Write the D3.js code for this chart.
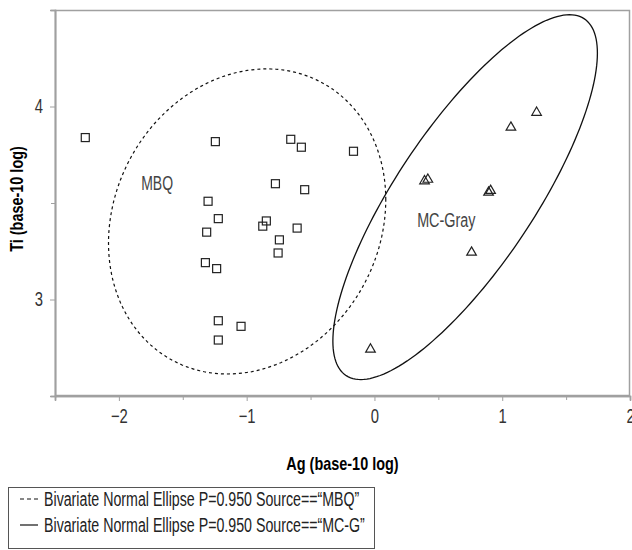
<!DOCTYPE html>
<html>
<head>
<meta charset="utf-8">
<script src="https://cdn.jsdelivr.net/npm/d3@7"></script>
<style>
  body { margin: 0; background: #fff; }
  text { font-family: "Liberation Sans", Arial, sans-serif; }
</style>
</head>
<body>
<svg id="chart" width="632" height="550"></svg>
<script>
// Ag / Ti (base-10 log)
var mbqAg = [-2.263, -1.245, -0.655, -0.572, -0.164, -0.775, -0.546, -1.302, -1.222, -1.313,
             -0.846, -0.874, -0.605, -0.744, -0.754, -1.323, -1.235, -1.222, -1.044, -1.222]
var mbqTi = [3.839, 3.818, 3.830, 3.789, 3.768, 3.600, 3.569, 3.509, 3.419, 3.349,
             3.407, 3.380, 3.370, 3.309, 3.241, 3.191, 3.160, 2.890, 2.861, 2.790]
var mcgAg = [1.269, 1.068, 0.392, 0.418, 0.893, 0.909, 0.760, -0.031]
var mcgTi = [3.974, 3.897, 3.619, 3.627, 3.560, 3.569, 3.249, 2.747]

var xTicks = [-2, -1, 0, 1, 2]
var xMinor = [-2.5, -1.5, -0.5, 0.5, 1.5]
var yTicks = [3, 4]
var yMinor = [3.5]
var P = 0.95
var legendLabels = ['Bivariate Normal Ellipse P=0.950 Source==\u201cMBQ\u201d',
                    'Bivariate Normal Ellipse P=0.950 Source==\u201cMC-G\u201d']

var margin = {top: 10, right: 2, bottom: 154, left: 55}
var width = 632, height = 550
var axisColor = '#a0a0a0'

var x = d3.scaleLinear().domain([-2.5, 2]).range([margin.left, width - margin.right])
var y = d3.scaleLinear().domain([2.5, 4.5]).range([height - margin.bottom, margin.top])

var svg = d3.select('#chart')

// no condensed face installed, so squeeze Liberation Sans horizontally
function narrow(ratio) {
    return sel => sel.each(function () {
        var len = this.getComputedTextLength()
        d3.select(this).attr('textLength', len * ratio).attr('lengthAdjust', 'spacingAndGlyphs')
    })
}

svg.append('clipPath').attr('id', 'plotclip')
    .append('rect')
    .attr('x', x(-2.5)).attr('y', y(4.5))
    .attr('width', x(2) - x(-2.5)).attr('height', y(2.5) - y(4.5))

// frame
svg.append('rect')
    .attr('x', x(-2.5) + 0.5).attr('y', y(4.5) + 0.5)
    .attr('width', x(2) - x(-2.5) - 1).attr('height', y(2.5) - y(4.5) - 1)
    .attr('fill', 'none').attr('stroke', axisColor).attr('stroke-width', 1.5)

// axes
svg.append('g')
    .attr('transform', `translate(0,${y(2.5)})`)
    .call(d3.axisBottom(x).tickValues(xTicks).tickSize(5).tickPadding(8).tickFormat(d3.format('d')))
svg.append('g')
    .attr('transform', `translate(0,${y(2.5)})`)
    .call(d3.axisBottom(x).tickValues(xMinor).tickSize(4).tickFormat(''))
svg.append('g')
    .attr('transform', `translate(${x(-2.5)},0)`)
    .call(d3.axisLeft(y).tickValues(yTicks).tickSize(5).tickPadding(7).tickFormat(d3.format('d')))
svg.append('g')
    .attr('transform', `translate(${x(-2.5)},0)`)
    .call(d3.axisLeft(y).tickValues(yMinor).tickSize(4).tickFormat(''))

svg.selectAll('.domain').attr('stroke', axisColor).attr('stroke-width', 1.5)
svg.selectAll('.tick line').attr('stroke', axisColor)
svg.selectAll('.tick text')
    .attr('font-family', '"Liberation Sans", sans-serif')
    .attr('font-size', 20).attr('fill', '#333')
    .call(narrow(0.74))

// axis titles
svg.append('text')
    .attr('x', (x(-2.5) + x(2)) / 2).attr('y', 470)
    .attr('text-anchor', 'middle')
    .attr('font-size', 19).attr('font-weight', 'bold')
    .text('Ag (base-10 log)')
    .call(narrow(0.76))
svg.append('text')
    .attr('transform', `translate(23,${(y(2.5) + y(4.5)) / 2 - 4}) rotate(-90)`)
    .attr('text-anchor', 'middle')
    .attr('font-size', 19).attr('font-weight', 'bold')
    .text('Ti (base-10 log)')
    .call(narrow(0.76))

// density ellipse from sample mean / covariance
function ellipse(xs, ys) {
    var n = xs.length
    var mx = d3.mean(xs), my = d3.mean(ys)
    var sxx = 0, syy = 0, sxy = 0
    for (var i = 0; i < n; i++) {
        sxx += (xs[i] - mx) * (xs[i] - mx)
        syy += (ys[i] - my) * (ys[i] - my)
        sxy += (xs[i] - mx) * (ys[i] - my)
    }
    sxx /= n - 1; syy /= n - 1; sxy /= n - 1
    var k = Math.sqrt(-2 * Math.log(1 - P))
    var l11 = Math.sqrt(sxx), l21 = sxy / l11, l22 = Math.sqrt(syy - l21 * l21)
    return d3.range(0, 360, 2).map(a => {
        var t = a * Math.PI / 180
        return [mx + k * l11 * Math.cos(t), my + k * (l21 * Math.cos(t) + l22 * Math.sin(t))]
    })
}
var line = d3.line().x(d => x(d[0])).y(d => y(d[1])).curve(d3.curveLinearClosed)

var plot = svg.append('g').attr('clip-path', 'url(#plotclip)')
plot.append('path')
    .attr('d', line(ellipse(mbqAg, mbqTi)))
    .attr('fill', 'none').attr('stroke', '#111').attr('stroke-width', 1.2)
    .attr('stroke-dasharray', '3,3')
plot.append('path')
    .attr('d', line(ellipse(mcgAg, mcgTi)))
    .attr('fill', 'none').attr('stroke', '#111').attr('stroke-width', 1.3)

// markers
plot.selectAll('.sq')
    .data(d3.zip(mbqAg, mbqTi))
    .join('rect')
    .attr('class', 'sq')
    .attr('x', d => x(d[0]) - 4).attr('y', d => y(d[1]) - 4)
    .attr('width', 8).attr('height', 8)
    .attr('fill', 'none').attr('stroke', '#222').attr('stroke-width', 1.2)
var tri = d3.symbol().type(d3.symbolTriangle).size(40)
plot.selectAll('.tri')
    .data(d3.zip(mcgAg, mcgTi))
    .join('path')
    .attr('class', 'tri')
    .attr('transform', d => `translate(${x(d[0])},${y(d[1]) + 1})`)
    .attr('d', tri)
    .attr('fill', 'none').attr('stroke', '#222').attr('stroke-width', 1.2)

// group labels
svg.append('text')
    .attr('x', x(d3.mean(mbqAg)) - 106).attr('y', 190)
    .attr('font-size', 20).attr('fill', '#444')
    .text('MBQ')
    .call(narrow(0.7))
svg.append('text')
    .attr('x', x(d3.mean(mcgAg)) - 48).attr('y', 227)
    .attr('font-size', 20).attr('fill', '#444')
    .text('MC-Gray')
    .call(narrow(0.72))

// legend
var lg = svg.append('g')
lg.append('rect')
    .attr('x', 8.5).attr('y', 487.5).attr('width', 366).attr('height', 61)
    .attr('fill', 'none').attr('stroke', '#555').attr('stroke-width', 1)
lg.selectAll('.lgline')
    .data(legendLabels)
    .join('line')
    .attr('x1', 20).attr('x2', 38)
    .attr('y1', (d, i) => 499 + i * 26).attr('y2', (d, i) => 499 + i * 26)
    .attr('stroke', '#111').attr('stroke-width', 1.2)
    .attr('stroke-dasharray', (d, i) => i == 0 ? '4,3' : null)
lg.selectAll('.lgtext')
    .data(legendLabels)
    .join('text')
    .attr('x', 44).attr('y', (d, i) => 506 + i * 26)
    .attr('font-size', 20).attr('fill', '#222')
    .text(d => d)
    .call(narrow(0.71))
</script>
</body>
</html>
